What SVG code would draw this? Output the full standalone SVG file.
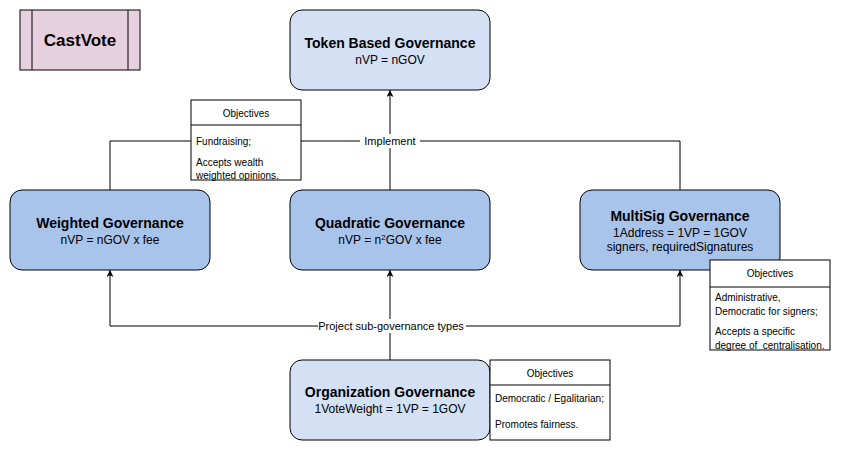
<svg xmlns="http://www.w3.org/2000/svg" width="841" height="453" viewBox="0 0 841 453">
<style>
text{font-family:"Liberation Sans",Arial,sans-serif;fill:#000}
.t{font-size:14px;font-weight:bold;text-anchor:middle}
.s{font-size:12px;text-anchor:middle}
.o{font-size:10px;white-space:pre}
.oh{font-size:10px;text-anchor:middle}
.l{font-size:11px;text-anchor:middle}
.node{stroke:#000;stroke-width:1}
.dark{fill:#A9C4EB}
.light{fill:#D4E1F5}
.box{fill:#fff;stroke:#000;stroke-width:1}
.c{fill:none;stroke:#000;stroke-width:1}
</style>
<defs>
<marker id="a" viewBox="0 0 10 10" refX="10" refY="5" markerWidth="7" markerHeight="7" orient="auto" markerUnits="userSpaceOnUse">
<path d="M0,0 L10,5 L0,10 L2.5,5 Z" fill="#000"/>
</marker>
</defs>
<rect width="841" height="453" fill="#fff"/>
<g id="connectors">
<path class="c" d="M390,190 V90" marker-end="url(#a)"/>
<path class="c" d="M110,190 V141 H360"/>
<path class="c" d="M420,141 H680 V190"/>
<path class="c" d="M390,360 V270" marker-end="url(#a)"/>
<path class="c" d="M390,326 H316"/>
<path class="c" d="M316,326 H110 V270" marker-end="url(#a)"/>
<path class="c" d="M466,326 H680 V270" marker-end="url(#a)"/>
<rect x="362" y="134" width="56" height="14" fill="#fff"/>
<text class="l" x="390" y="145">Implement</text>
<rect x="318" y="319" width="148" height="14" fill="#fff"/>
<text class="l" x="391" y="330">Project sub-governance types</text>
</g>
<g id="castvote">
<rect x="20" y="10" width="120" height="60" fill="#E6D0DE" stroke="#000"/>
<line x1="32" y1="10" x2="32" y2="70" stroke="#000"/>
<line x1="128" y1="10" x2="128" y2="70" stroke="#000"/>
<text x="80" y="46" style="font-size:17px;font-weight:bold;text-anchor:middle">CastVote</text>
</g>
<g id="token">
<rect class="node light" x="290" y="10" width="200" height="80" rx="12"/>
<text class="t" x="390" y="48">Token Based Governance</text>
<text class="s" x="390" y="64">nVP = nGOV</text>
</g>
<g id="weighted">
<rect class="node dark" x="10" y="190" width="200" height="80" rx="12"/>
<text class="t" x="110" y="228">Weighted Governance</text>
<text class="s" x="110" y="244">nVP = nGOV x fee</text>
</g>
<g id="quadratic">
<rect class="node dark" x="290" y="190" width="200" height="80" rx="12"/>
<text class="t" x="390" y="228">Quadratic Governance</text>
<text class="s" x="390" y="244">nVP = n<tspan font-size="8" dy="-4">2</tspan><tspan dy="4">GOV x fee</tspan></text>
</g>
<g id="multisig">
<rect class="node dark" x="580" y="190" width="200" height="80" rx="12"/>
<text class="t" x="680" y="221">MultiSig Governance</text>
<text class="s" x="680" y="237">1Address = 1VP = 1GOV</text>
<text class="s" x="680" y="251">signers, requiredSignatures</text>
</g>
<g id="organization">
<rect class="node light" x="290" y="360" width="200" height="80" rx="12"/>
<text class="t" x="390" y="397">Organization Governance</text>
<text class="s" x="390" y="413">1VoteWeight = 1VP = 1GOV</text>
</g>
<g id="obj-weighted">
<rect class="box" x="191" y="100" width="110" height="80"/>
<line x1="191" y1="125" x2="301" y2="125" stroke="#000"/>
<text class="oh" x="246" y="117">Objectives</text>
<text class="o" x="196" y="145">Fundraising;</text>
<text class="o" x="196" y="166">Accepts wealth</text>
<text class="o" x="196" y="179">weighted opinions.</text>
</g>
<g id="obj-multisig">
<rect class="box" x="710" y="260" width="120" height="90"/>
<line x1="710" y1="287" x2="830" y2="287" stroke="#000"/>
<text class="oh" x="770" y="277">Objectives</text>
<text class="o" x="715" y="301">Administrative,</text>
<text class="o" x="715" y="315">Democratic for signers;</text>
<text class="o" x="715" y="335">Accepts a specific</text>
<text class="o" x="715" y="349">degree of  centralisation.</text>
</g>
<g id="obj-organization">
<rect class="box" x="490" y="360" width="120" height="80"/>
<line x1="490" y1="385" x2="610" y2="385" stroke="#000"/>
<text class="oh" x="550" y="377">Objectives</text>
<text class="o" x="495" y="402">Democratic / Egalitarian;</text>
<text class="o" x="495" y="428">Promotes fairness.</text>
</g>
</svg>
